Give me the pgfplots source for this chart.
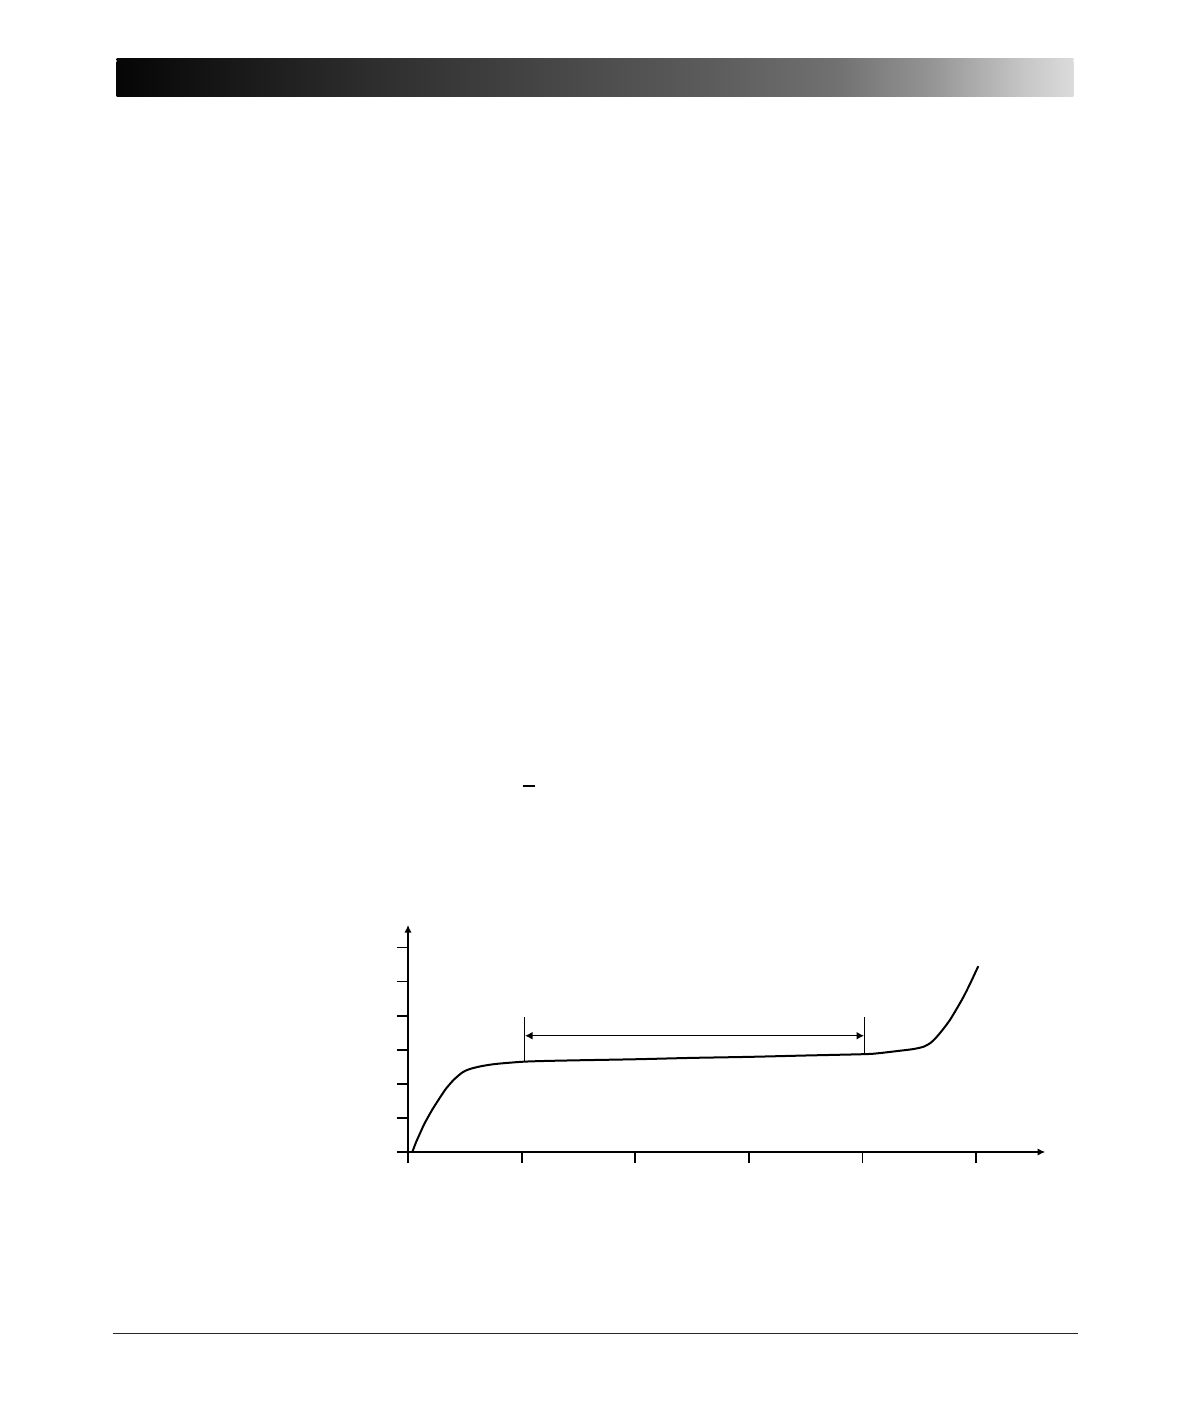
\documentclass[border=0pt]{standalone}
\usepackage{pgfplots}
\pgfplotsset{compat=1.18}
\usetikzlibrary{arrows.meta}
\pgfdeclarehorizontalshading{hdr}{100bp}{color(0bp)=(black!98); color(25bp)=(black!98); color(37.5bp)=(black!83); color(50bp)=(black!70); color(56bp)=(black!64); color(62.5bp)=(black!56); color(67.5bp)=(black!42); color(72.5bp)=(black!22); color(75bp)=(black!14); color(100bp)=(black!14)}
\begin{document}
\begin{tikzpicture}
\begin{scope}[x=0.5pt,y=-0.5pt]
\useasboundingbox[fill=white] (0,0) rectangle (1190,1418);
\shade[shading=hdr] (116.7,58.5) rectangle (1073.3,60.2);
\shade[shading=hdr] (116.7,61.2) rectangle (1073.3,96.7);
\draw[line width=0.65pt, black!85] (112.7,1333.3) -- (1078,1333.3);
\draw[line width=0.8pt] (523,786) -- (535,786);
\end{scope}
\begin{axis}[at={(204pt,-576pt)}, anchor=south west,
  x=56.8pt, y=17.05pt,
  xmin=0, xmax=5.61, ymin=0, ymax=6.66,
  axis lines=left,
  axis line style={line width=1.15pt, -{Latex[length=3.8pt,width=3.6pt]}},
  xtick={0,1,2,3,4,5}, ytick={0,1,2,3,4,5,6},
  xticklabels={}, yticklabels={},
  tick align=outside, major tick length=5.6pt,
  tick style={black, line width=0.9pt},
  clip=false]
\addplot[line width=1pt, smooth, tension=0.5] coordinates {
 (0.038,0) (0.07,0.28) (0.106,0.55) (0.14,0.80) (0.179,1.04) (0.215,1.25)
 (0.253,1.45) (0.29,1.64) (0.326,1.82) (0.36,1.96) (0.4,2.11) (0.44,2.23)
 (0.473,2.32) (0.51,2.39) (0.56,2.45) (0.65,2.52) (0.766,2.58) (0.9,2.62)
 (1.024,2.65) (1.21,2.67) (1.5,2.69) (2.0,2.72) (2.5,2.76) (3.0,2.79)
 (3.5,2.83) (4.02,2.87) (4.15,2.90) (4.33,2.97) (4.45,3.02) (4.54,3.09)
 (4.60,3.20) (4.65,3.36) (4.71,3.60) (4.77,3.87) (4.83,4.20) (4.89,4.55)
 (4.95,4.95) (5.02,5.45)};
\addplot[line width=0.75pt] coordinates {(1.024,2.65) (1.024,3.96)};
\addplot[line width=0.75pt] coordinates {(4.02,2.87) (4.02,3.96)};
\addplot[line width=0.75pt, arrows={Latex[length=3.8pt,width=4pt]-Latex[length=3.8pt,width=4pt]}] coordinates {(1.03,3.41) (4.015,3.41)};
\end{axis}
\end{tikzpicture}
\end{document}
